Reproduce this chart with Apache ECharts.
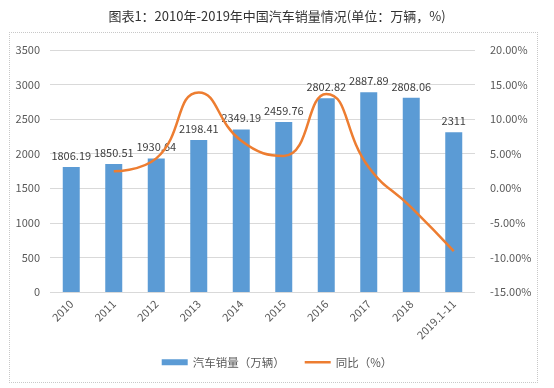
<!DOCTYPE html>
<html><head><meta charset="utf-8">
<script src="https://cdn.jsdelivr.net/npm/echarts@6/dist/echarts.min.js"></script>
<style>html,body{margin:0;padding:0;background:#fff}#c{width:554px;height:388px}
#box{position:absolute;left:9px;top:32px;width:529px;height:351px;border:1px dotted #c8c8c8;box-sizing:border-box;pointer-events:none}</style>
</head><body><div id="c"></div><div id="box"></div>
<script>
const categories = ['2010','2011','2012','2013','2014','2015','2016','2017','2018','2019.1-11'];
const sales = [1806.19,1850.51,1930.64,2198.41,2349.19,2459.76,2802.82,2887.89,2808.06,2311];
const growth = [null,2.45,4.33,13.87,6.86,4.68,13.65,3.04,-2.76,-9.1];
const leftTicks = {min:0,max:3500,interval:500};
const rightTicks = {min:-15,max:20,interval:5};
const font = '"Microsoft YaHei","Noto Sans CJK SC",sans-serif';
const chart = echarts.init(document.getElementById('c'));
chart.setOption({
  animation:false,
  textStyle:{fontFamily:font},
  title:{text:'图表1：2010年-2019年中国汽车销量情况(单位：万辆，%)',left:'center',top:5,
    textStyle:{fontSize:13,fontWeight:'normal',color:'#333',fontFamily:font}},
  grid:{left:50,right:79,top:50,bottom:96},
  legend:{bottom:15,left:'center',itemGap:20,itemWidth:26,itemHeight:6,
    textStyle:{color:'#595959',fontSize:11.5},
    data:[{name:'汽车销量（万辆）',icon:'path://M0,0L26,0L26,6L0,6Z'},
          {name:'同比（%）',icon:'path://M0,0L26,0L26,2.5L0,2.5Z'}]},
  xAxis:{type:'category',data:categories,
    axisLine:{show:false},axisTick:{show:false},
    axisLabel:{rotate:45,color:'#595959',fontSize:11,interval:0,margin:10}},
  yAxis:[{type:'value',min:leftTicks.min,max:leftTicks.max,interval:leftTicks.interval,
      axisLabel:{color:'#595959',fontSize:11,margin:10,formatter:v=>String(v)},
      splitLine:{lineStyle:{color:'#d9d9d9'}},axisLine:{show:false},axisTick:{show:false}},
    {type:'value',min:rightTicks.min,max:rightTicks.max,interval:rightTicks.interval,
      axisLabel:{color:'#595959',fontSize:11,margin:15,formatter:v=>v.toFixed(2)+'%'},
      splitLine:{show:false},axisLine:{show:false},axisTick:{show:false}}],
  series:[{name:'汽车销量（万辆）',type:'bar',data:sales,barWidth:17,
      itemStyle:{color:'#5B9BD5'},
      label:{show:true,position:'top',color:'#404040',fontSize:11,distance:6}},
    {name:'同比（%）',type:'line',yAxisIndex:1,data:growth,smooth:0.5,showSymbol:false,
      lineStyle:{color:'#ED7D31',width:2.5},itemStyle:{color:'#ED7D31'},connectNulls:false}]
});
</script></body></html>
